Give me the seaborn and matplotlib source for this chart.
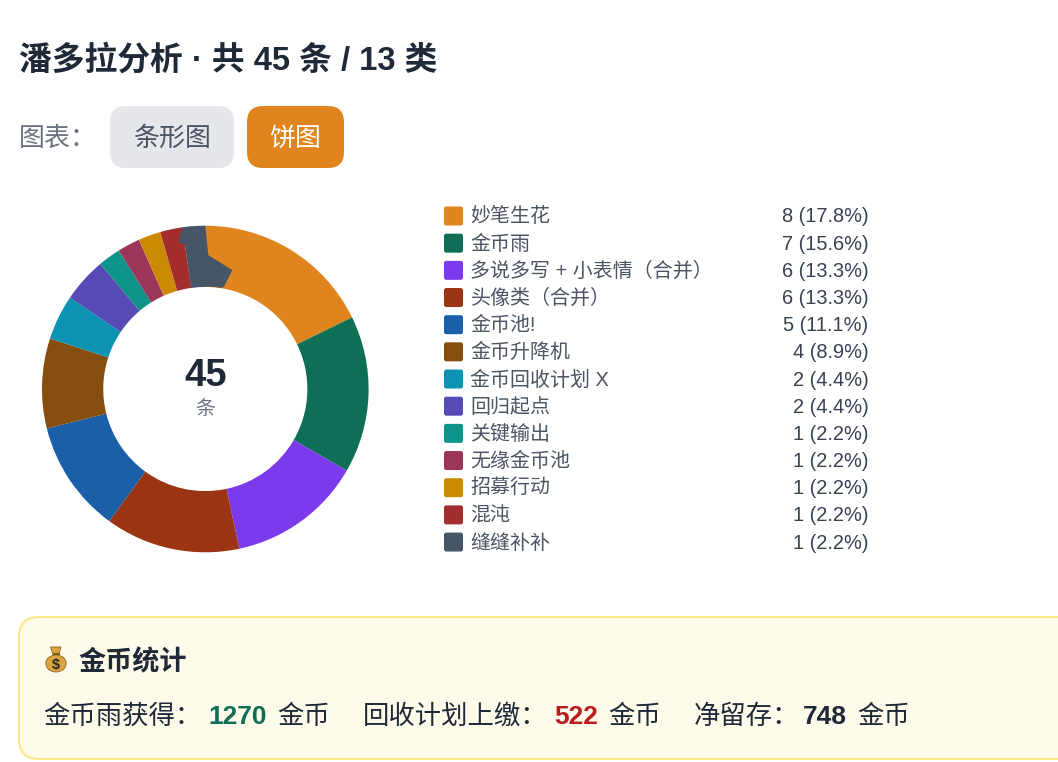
# Pandora analysis donut with side legend and coin summary panel
import numpy as np
import pandas as pd
import matplotlib
matplotlib.use("Agg")
import matplotlib.pyplot as plt
import seaborn as sns
from matplotlib.patches import FancyBboxPatch, Polygon, Ellipse, Rectangle
from matplotlib.path import Path

# ===============================
# Data
# ===============================
categories = ["妙笔生花", "金币雨", "多说多写 + 小表情（合并）", "头像类（合并）", "金币池!",
              "金币升降机", "金币回收计划 X", "回归起点", "关键输出", "无缘金币池",
              "招募行动", "混沌", "缝缝补补"]
counts = [8, 7, 6, 6, 5, 4, 2, 2, 1, 1, 1, 1, 1]
colors = ["#E0851E", "#0F6E56", "#7C3AED", "#9A3412", "#1A5FA8", "#854D0E", "#0C93B4",
          "#564AB5", "#0D9488", "#9B3559", "#CA8A04", "#A32D2D", "#475569"]

# overlap artefact of the last slice, angle clockwise from 12 o'clock / radius fraction
glitch_angles = [-8, -10.4, -7.75, -8, -4, 0, 3, 6, 9, 10.4, 12.8, 1.3, 0]
glitch_radii = [1.0, 0.913, 0.89, 0.627, 0.627, 0.627, 0.627, 0.627, 0.627, 0.637, 0.747, 0.82, 1.0]

title = "潘多拉分析 · 共 45 条 / 13 类"
stat_texts = ["金币雨获得：", "1270", "金币", "回收计划上缴：", "522", "金币", "净留存：", "748", "金币"]
stat_x = [43, 208, 277, 363, 554, 608, 694, 803, 857]

# ===============================
# Style
# ===============================
INK = "#1F2937"
GREY = "#6B7280"
FONTS = ["Liberation Sans", "Noto Sans CJK SC", "DejaVu Sans"]

sns.set_theme(style="white")
plt.rcParams["font.family"] = FONTS

fig = plt.figure(figsize=(10.58, 7.62), dpi=100, facecolor="white")
W, H = 1058, 762

# page axes in pixel coordinates
page = fig.add_axes([0, 0, 1, 1])
page.set_axis_off()


def box(x, y, w, h, color, radius, edge="none", lw=0):
    page.add_patch(FancyBboxPatch((x, y), w, h, boxstyle=f"round,pad=0,rounding_size={radius}",
                                  facecolor=color, edgecolor=edge, linewidth=lw))


# ===============================
# Header
# ===============================
page.text(19, 70, title, fontsize=23.6, fontweight="bold", color=INK, va="baseline")
page.text(19, 145.5, "图表：", fontsize=18.7, color=GREY, va="baseline")
box(110, 106, 124, 62, "#E5E7EB", 16)
box(247, 106, 97, 62, colors[0], 16)
page.text(172, 145.5, "条形图", fontsize=18.7, color="#4B5563", ha="center", va="baseline")
page.text(295.5, 145.5, "饼图", fontsize=18.7, color="white", ha="center", va="baseline")

# ===============================
# Legend table
# ===============================
rows = pd.DataFrame({"name": categories, "count": counts})
rows["row"] = np.arange(len(rows)) * 27.17 + 216
rows["x"] = 453.5
rows["value"] = [f"{c} ({c / sum(counts) * 100:.1f}%)" for c in counts]

swatch = FancyBboxPatch((-1, -1), 2, 2, boxstyle="round,pad=0,rounding_size=0.24").get_path()
sns.scatterplot(data=rows, x="x", y="row", hue="name", palette=dict(zip(categories, colors)),
                marker=Path(swatch.vertices, swatch.codes), s=187, linewidth=0, legend=False, ax=page)

for _, r in rows.iterrows():
    page.text(470.5, r["row"] + 6.5, r["name"], fontsize=14.4, color="#4B5563", va="baseline")
    page.text(868.5, r["row"] + 6.5, r["value"], fontsize=14.4, color="#374151", ha="right", va="baseline")

# ===============================
# Coin panel
# ===============================
box(19, 617, 1100, 142, "#FFFBEB", 20, edge="#FDE68A", lw=1.5)

# money bag icon
page.add_patch(Polygon([(50.5, 647), (61, 647), (58.5, 656), (53.5, 656)], facecolor="#D9A441",
                       edgecolor="#8A6A20", linewidth=0.6))
page.add_patch(Ellipse((56, 663.5), 20.5, 17, facecolor="#D9A441", edgecolor="#8A6A20", linewidth=0.6))
page.add_patch(Rectangle((52.5, 653), 7, 1.6, facecolor="#7A5A1A", edgecolor="none"))
page.text(56, 668.5, "$", fontsize=10.5, fontweight="bold", color="#2F2A1A", ha="center", va="baseline")

page.text(78, 670, "金币统计", fontsize=19.5, fontweight="bold", color=INK, va="baseline")

stat_colors = [INK, "#0F6E56", INK, INK, "#B91C1C", INK, INK, INK, INK]
for x, s, c in zip(stat_x, stat_texts, stat_colors):
    bold = s.isdigit()
    page.text(x, 724, s, fontsize=19, fontweight="bold" if bold else "normal", color=c, va="baseline")

page.set_xlim(0, W)
page.set_ylim(H, 0)
page.set_xlabel("")
page.set_ylabel("")

# ===============================
# Donut
# ===============================
CX, CY, R = 205.3, 389, 163.3
pie_ax = fig.add_axes([(CX - R) / W, 1 - (CY + R) / H, 2 * R / W, 2 * R / H])
pie_ax.pie(counts, colors=sns.color_palette(colors, len(colors)), startangle=90, counterclock=False,
           radius=1, wedgeprops={"width": 0.375, "linewidth": 0})
theta = np.radians(glitch_angles)
pie_ax.add_patch(Polygon(np.column_stack([np.sin(theta) * glitch_radii, np.cos(theta) * glitch_radii]),
                         facecolor=colors[-1], edgecolor="none", zorder=5))
pie_ax.set_xlim(-1, 1)
pie_ax.set_ylim(-1, 1)
pie_ax.patch.set_alpha(0)
pie_ax.text(0, 0.02, str(sum(counts)), fontsize=27.5, fontweight="bold", color=INK, ha="center", va="baseline")
pie_ax.text(0, -0.16, "条", fontsize=14.4, color=GREY, ha="center", va="baseline")

fig.savefig("out.png", dpi=100)
